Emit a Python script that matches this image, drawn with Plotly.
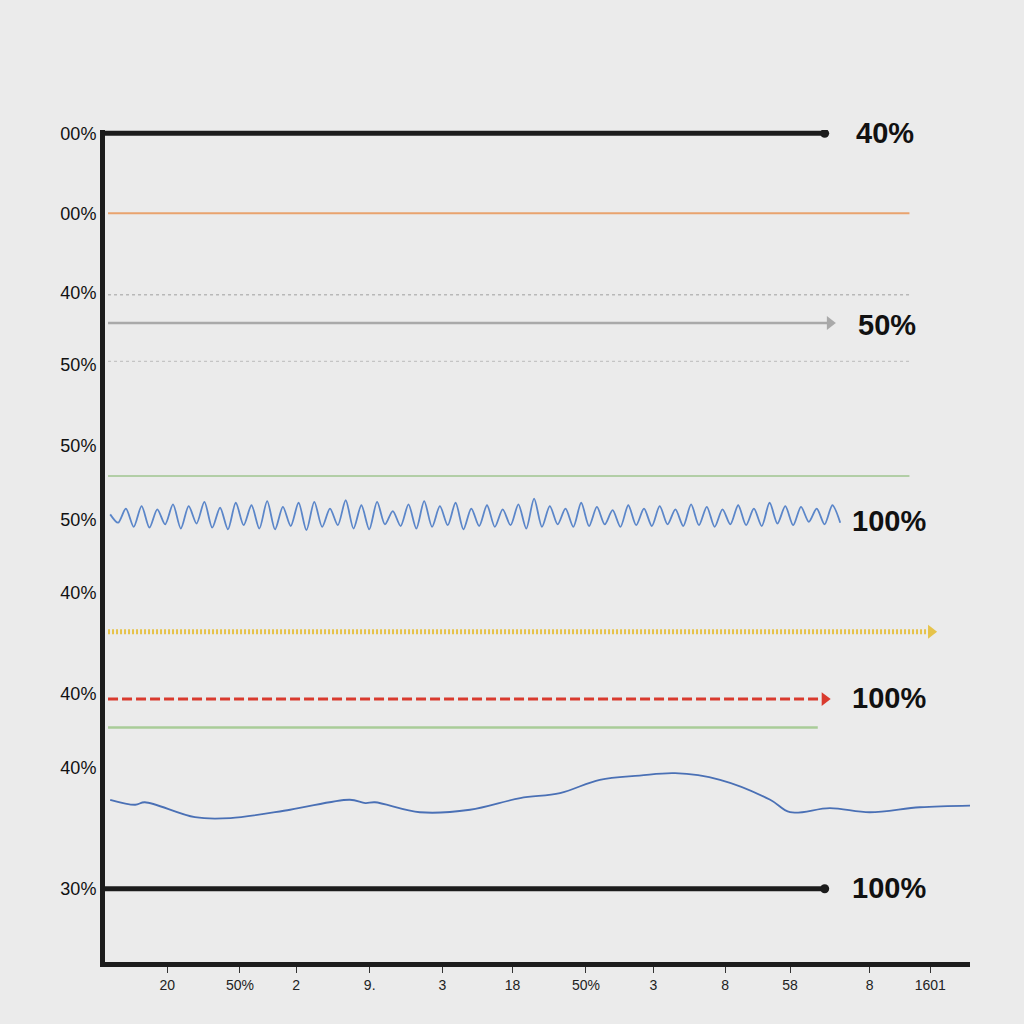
import plotly.graph_objects as go

# ---- data ----
y_tick_vals = [99.6, 90.0, 80.5, 71.8, 62.1, 53.2, 44.4, 32.3, 23.3, 8.8]
y_tick_text = ["00%", "00%", "40%", "50%", "50%", "50%", "40%", "40%", "40%", "30%"]

x_tick_vals = [7.2, 15.6, 22.1, 30.6, 39.0, 47.1, 55.6, 63.4, 71.7, 79.2, 88.4, 95.4]
x_tick_text = ["20", "50%", "2", "9.", "3", "18", "50%", "3", "8", "58", "8", "1601"]

# flat series: (level, x_start, x_end)
black_top = (99.6, 0.0, 83.2)
orange_line = (90.0, 0.35, 93.0)
gray_dot_1 = (80.2, 0.35, 93.0)
gray_arrow = (76.8, 0.35, 83.8)
gray_dot_2 = (72.2, 0.35, 93.0)
green_1 = (58.4, 0.35, 93.0)
yellow_hatch = (39.7, 0.35, 95.5)
red_dash = (31.6, 0.35, 83.2)
green_2 = (28.2, 0.35, 82.4)
black_bottom = (8.8, 0.0, 83.2)

# wiggly blue series
wiggle_y = [53.8, 52.8, 54.5, 52.3, 54.8, 52.2, 54.4, 52.6, 55.0, 52.1,
            54.8, 52.7, 55.3, 52.2, 54.6, 52.0, 55.2, 52.5, 54.9, 52.1,
            55.4, 52.0, 54.7, 52.4, 55.2, 51.9, 55.3, 52.3, 54.5, 52.5,
            55.5, 52.1, 54.9, 52.0, 55.3, 52.6, 54.2, 52.4, 55.0, 52.1,
            55.4, 52.3, 54.8, 52.5, 55.2, 52.0, 54.5, 52.4, 54.9, 52.3,
            54.4, 52.5, 55.0, 52.1, 55.7, 52.3, 54.8, 52.6, 54.5, 52.3,
            55.2, 52.4, 54.7, 52.6, 54.3, 52.3, 54.9, 52.5, 54.5, 52.4,
            54.8, 52.6, 54.4, 52.4, 55.0, 52.5, 54.7, 52.3, 54.4, 52.6,
            54.9, 52.5, 54.5, 52.4, 55.2, 52.7, 54.8, 52.5, 54.7, 52.9,
            54.5, 52.6, 54.9, 52.8]
wiggle_x0, wiggle_x1 = 0.6, 85.0

# lower smooth blue series
wave_x = [0.6, 3.5, 4.6, 10.4, 14.5, 21.4, 28.3, 30.1, 31.2, 36.4, 42.2,
          48.0, 52.6, 57.2, 61.8, 65.9, 71.1, 76.9, 79.2, 83.8, 88.4, 94.2, 100.0]
wave_y = [19.5, 18.9, 19.2, 17.4, 17.3, 18.3, 19.5, 19.1, 19.2, 18.0, 18.3,
          19.7, 20.3, 21.9, 22.4, 22.7, 21.9, 19.5, 18.0, 18.5, 18.0, 18.6, 18.8]

right_labels = ["40%", "50%", "100%", "100%", "100%"]
right_label_y = [99.7, 76.6, 53.0, 31.7, 8.9]
right_label_x = [90.2, 90.4, 90.6, 90.6, 90.6]

# ---- figure ----
fig = go.Figure()

def flat(series, color, width, dash="solid", end_symbol=None, end_size=10):
    lvl, xs, xe = series
    fig.add_trace(go.Scatter(x=[xs, xe], y=[lvl, lvl], mode="lines",
                             line=dict(color=color, width=width, dash=dash),
                             hoverinfo="skip", showlegend=False))
    if end_symbol:
        fig.add_trace(go.Scatter(x=[xe], y=[lvl], mode="markers",
                                 marker=dict(symbol=end_symbol, size=end_size, color=color),
                                 hoverinfo="skip", showlegend=False))

flat(black_top, "#1c1c1c", 5, end_symbol="circle", end_size=9)
flat(orange_line, "#e9a36e", 2)
flat(gray_dot_1, "#b8b8b8", 1.5, dash="dot")
flat(gray_arrow, "#a9a9a9", 2.5, end_symbol="triangle-right", end_size=12)
flat(gray_dot_2, "#c4c4c4", 1.2, dash="dot")
flat(green_1, "#9fc48f", 1.5)
flat(yellow_hatch, "#e6c34a", 5, dash="2px,2px", end_symbol="triangle-right", end_size=12)
flat(red_dash, "#d93a2e", 3, dash="10px,4px", end_symbol="triangle-right", end_size=12)
flat(green_2, "#a9cc98", 2.5)
flat(black_bottom, "#1c1c1c", 5, end_symbol="circle", end_size=9)

n = len(wiggle_y)
wx = [wiggle_x0 + (wiggle_x1 - wiggle_x0) * i / (n - 1) for i in range(n)]
fig.add_trace(go.Scatter(x=wx, y=wiggle_y, mode="lines",
                         line=dict(color="#5b86c9", width=1.8, shape="spline", smoothing=0.8),
                         hoverinfo="skip", showlegend=False))
fig.add_trace(go.Scatter(x=wave_x, y=wave_y, mode="lines",
                         line=dict(color="#4a70b5", width=1.8, shape="spline"),
                         hoverinfo="skip", showlegend=False))

for t, yy, xx in zip(right_labels, right_label_y, right_label_x):
    fig.add_annotation(x=xx, y=yy, text="<b>" + t + "</b>", showarrow=False, xanchor="center",
                       font=dict(family="Liberation Sans, Arial", size=29, color="#111111"),
                       xref="x", yref="y")

fig.update_layout(
    width=1024, height=1024,
    margin=dict(l=105, r=54, t=130, b=62),
    paper_bgcolor="#ebebeb", plot_bgcolor="#ebebeb",
    xaxis=dict(range=[0, 100], showgrid=False, zeroline=False,
               showline=True, linewidth=5, linecolor="#1c1c1c",
               tickmode="array", tickvals=x_tick_vals, ticktext=x_tick_text,
               ticks="outside", ticklen=6, tickcolor="#333333", tickwidth=1,
               tickfont=dict(family="Liberation Sans, Arial", size=14, color="#222222")),
    yaxis=dict(range=[0, 100], showgrid=False, zeroline=False,
               showline=True, linewidth=5, linecolor="#1c1c1c",
               tickmode="array", tickvals=y_tick_vals, ticktext=y_tick_text,
               ticks="", ticklen=0, ticklabelstandoff=0,
               tickfont=dict(family="Liberation Sans, Arial", size=18, color="#111111")),
)

fig.write_html("out.html", config={"displayModeBar": False},
               post_script="document.body.style.margin='0';document.body.style.background='#ebebeb';")
